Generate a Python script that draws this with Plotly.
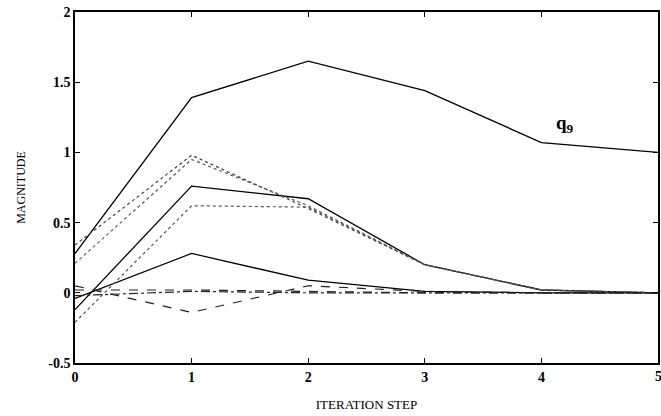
import plotly.graph_objects as go

steps = [0, 1, 2, 3, 4, 5]

q9 = [0.28, 1.39, 1.65, 1.44, 1.07, 1.0]
solid_b = [-0.12, 0.76, 0.67, 0.20, 0.02, 0.0]
solid_c = [-0.04, 0.28, 0.09, 0.01, 0.0, 0.0]
dot_a = [0.34, 0.98, 0.60, 0.20, 0.02, 0.0]
dot_b = [0.21, 0.95, 0.62, 0.20, 0.02, 0.0]
dot_c = [-0.21, 0.62, 0.61, 0.20, 0.02, 0.0]
dash_d = [0.05, -0.14, 0.05, 0.01, 0.0, 0.0]
dash_e = [0.02, 0.02, 0.01, 0.0, 0.0, 0.0]
dashdot_f = [-0.02, 0.01, 0.0, 0.0, 0.0, 0.0]

x_ticks = [0, 1, 2, 3, 4, 5]
y_ticks = [-0.5, 0, 0.5, 1, 1.5, 2]
y_ticktext = ["-0.5", "0", "0.5", "1", "1.5", "2"]

series = [
    (q9, "solid", "black", 1.3),
    (solid_b, "solid", "black", 1.3),
    (solid_c, "solid", "black", 1.3),
    (dot_a, "dot", "#444444", 1.2),
    (dot_b, "dot", "#555555", 1.2),
    (dot_c, "dot", "#555555", 1.2),
    (dash_d, "dash", "#222222", 1.2),
    (dash_e, "dash", "#222222", 1.2),
    (dashdot_f, "dashdot", "#222222", 1.2),
]

fig = go.Figure()
for ys, dash, color, w in series:
    fig.add_trace(go.Scatter(x=steps, y=ys, mode="lines",
                             line=dict(color=color, width=w, dash=dash),
                             showlegend=False))

font = dict(family="Liberation Serif, Times New Roman, serif", color="black")

fig.add_annotation(x=4.2, y=1.2, text="<b>q<sub>9</sub></b>", showarrow=False,
                   font=dict(size=19, **font))

# last x tick label, partly cut by the page edge as in the reference
fig.add_annotation(x=x_ticks[-1], y=0, xref="x", yref="paper", yshift=-4,
                   yanchor="top", xanchor="center", text="<b>5</b>", showarrow=False,
                   font=dict(size=14, **font))

axis_common = dict(showline=True, linecolor="black", linewidth=1.5, mirror="ticks",
                   ticks="inside", ticklen=5, tickcolor="black", showgrid=False,
                   zeroline=False, tickfont=dict(size=14, weight="bold", **font))

fig.update_xaxes(range=[0, 5], tickvals=x_ticks[:-1],
                 title=dict(text="ITERATION STEP", font=dict(size=13, **font), standoff=16),
                 **axis_common)
fig.update_yaxes(range=[-0.5, 2], tickvals=y_ticks, ticktext=y_ticktext,
                 title=dict(text="MAGNITUDE", font=dict(size=12, **font), standoff=20),
                 **axis_common)

fig.update_layout(width=661, height=416, margin=dict(l=75, r=1, t=12, b=53),
                  plot_bgcolor="white", paper_bgcolor="white")

fig.write_html("out.html")
